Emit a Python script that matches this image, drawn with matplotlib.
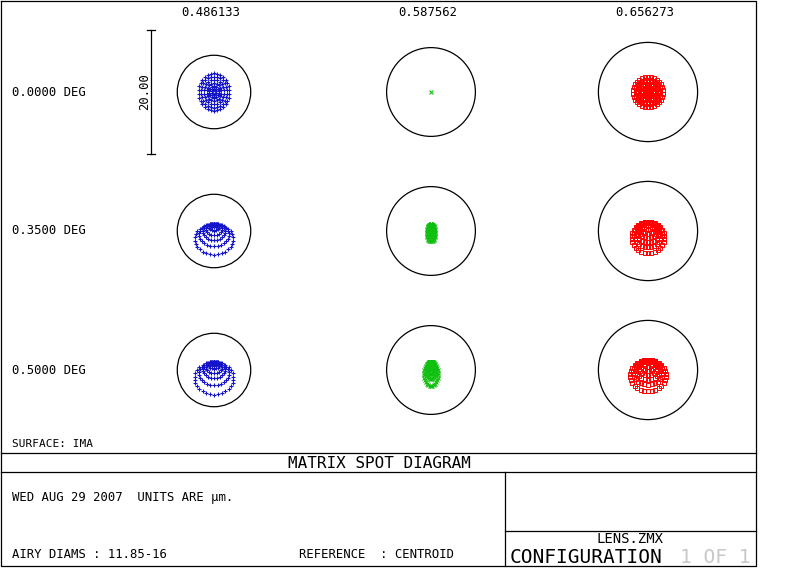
import numpy as np
import matplotlib.pyplot as plt
from matplotlib.patches import Circle

# wavelengths (columns) and field angles (rows)
wavelengths = ['0.486133', '0.587562', '0.656273']
fields = ['0.0000 DEG', '0.3500 DEG', '0.5000 DEG']
airy_diam = [11.85, 14.32, 16.00]          # um
colors = ['#1414c8', '#10c010', '#ff0000']
markers = ['+', 'x', 's']

# spot rings per wavelength, one list per field: half widths, half heights, centre offset (um)
blue_rx = [[2.5, 2.1, 1.65, 1.2, 0.75, 0.35],
           [3.1, 2.4, 1.8, 1.3, 0.85, 0.45, 0.18],
           [3.15, 2.4, 1.8, 1.3, 0.85, 0.45, 0.18]]
blue_ry = [[3.0, 2.5, 2.0, 1.45, 0.9, 0.42],
           [2.5, 1.8, 1.32, 0.92, 0.58, 0.3, 0.12],
           [2.63, 1.85, 1.3, 0.9, 0.55, 0.3, 0.12]]
blue_dy = [[0, 0, 0, 0, 0, 0],
           [-1.3, -0.6, -0.12, 0.28, 0.62, 0.9, 1.08],
           [-1.34, -0.56, -0.01, 0.39, 0.74, 0.99, 1.17]]

green_rx = [[0.0],
            [0.7, 0.52, 0.37, 0.24, 0.13, 0.05],
            [1.13, 0.85, 0.6, 0.4, 0.23, 0.1, 0.04]]
green_ry = [[0.0],
            [1.37, 1.0, 0.7, 0.45, 0.25, 0.1],
            [2.0, 1.45, 1.0, 0.65, 0.38, 0.17, 0.06]]
green_dy = [[0.0],
            [-0.32, 0.05, 0.35, 0.6, 0.8, 0.95],
            [-0.63, -0.08, 0.37, 0.72, 0.99, 1.2, 1.31]]

red_rx = [[2.42, 2.0, 1.6, 1.2, 0.8, 0.4],
          [2.64, 2.25, 1.85, 1.45, 1.05, 0.65, 0.3],
          [2.9, 2.4, 1.95, 1.5, 1.1, 0.7, 0.32]]
red_ry = [[2.42, 2.0, 1.6, 1.2, 0.8, 0.4],
          [2.5, 2.05, 1.65, 1.28, 0.95, 0.6, 0.3],
          [2.5, 2.0, 1.6, 1.22, 0.88, 0.55, 0.25]]
red_dy = [[0, 0, 0, 0, 0, 0],
          [-1.05, -0.6, -0.2, 0.17, 0.5, 0.85, 1.15],
          [-0.89, -0.39, 0.01, 0.39, 0.73, 1.06, 1.36]]

ring_points = [30, 26, 22, 18, 14, 10, 6]

spot_rx = [blue_rx, green_rx, red_rx]
spot_ry = [blue_ry, green_ry, red_ry]
spot_dy = [blue_dy, green_dy, red_dy]

scale_bar = 20.0   # um
PX_PER_UM = 6.2

plt.rcParams['font.family'] = 'DejaVu Sans Mono'

fig = plt.figure(figsize=(8, 5.68), dpi=100)
bg = fig.add_axes([0, 0, 1, 1])
bg.set_xlim(0, 800)
bg.set_ylim(568, 0)
bg.axis('off')

# frame
lw = 0.9
bg.plot([1, 756, 756, 1, 1], [1, 1, 566, 566, 1], color='black', lw=lw)
bg.plot([1, 756], [453, 453], color='black', lw=lw)
bg.plot([1, 756], [472, 472], color='black', lw=lw)
bg.plot([505, 505], [472, 566], color='black', lw=lw)
bg.plot([505, 756], [531, 531], color='black', lw=lw)

col_x = [214, 431, 648]
row_y = [92, 231, 370]
cell_w, cell_h = 217, 139

for c, wl in enumerate(wavelengths):
    bg.text(col_x[c] - 3, 12, wl, ha='center', va='center', fontsize=8.8)
for r, fl in enumerate(fields):
    bg.text(12, row_y[r], fl, ha='left', va='center', fontsize=8.8)

for c in range(3):
    for r in range(3):
        ax = fig.add_axes([(col_x[c] - cell_w / 2) / 800, 1 - (row_y[r] + cell_h / 2) / 568,
                           cell_w / 800, cell_h / 568])
        ax.set_xlim(-cell_w / 2 / PX_PER_UM, cell_w / 2 / PX_PER_UM)
        ax.set_ylim(-cell_h / 2 / PX_PER_UM, cell_h / 2 / PX_PER_UM)
        ax.axis('off')
        ax.add_patch(Circle((0, 0), airy_diam[c] / 2, fill=False, color='black', lw=0.9))
        rx, ry, dy = spot_rx[c][r], spot_ry[c][r], spot_dy[c][r]
        for i in range(len(rx)):
            n = ring_points[i] if rx[i] > 0 else 1
            a = np.linspace(0, 2 * np.pi, n, endpoint=False)
            xs = rx[i] * np.sin(a)
            ys = dy[i] + ry[i] * np.cos(a)
            if markers[c] == 's':
                ax.plot(xs, ys, ls='none', marker='s', ms=2.4, mfc='none',
                        mec=colors[c], mew=0.7)
            else:
                ax.plot(xs, ys, ls='none', marker=markers[c], ms=3.0,
                        color=colors[c], mew=0.8)
        if c == 0 and r == 0:
            bx = -10.16
            ax.plot([bx, bx], [-scale_bar / 2, scale_bar / 2], color='black', lw=0.9, clip_on=False)
            for yy in (-scale_bar / 2, scale_bar / 2):
                ax.plot([bx - 0.7, bx + 0.7], [yy, yy], color='black', lw=0.9, clip_on=False)
            ax.text(bx - 1.0, 0, '%.2f' % scale_bar, rotation=90, ha='center', va='center',
                    fontsize=8.8)

bg.text(12, 444, 'SURFACE: IMA', ha='left', va='center', fontsize=8)
bg.text(379, 463, 'MATRIX SPOT DIAGRAM', ha='center', va='center', fontsize=11.5)
bg.text(12, 498, 'WED AUG 29 2007  UNITS ARE \u00b5m.', ha='left', va='center', fontsize=8.8)
bg.text(12, 555, 'AIRY DIAMS : %.2f-%g' % (airy_diam[0], round(airy_diam[2])),
        ha='left', va='center', fontsize=8.8)
bg.text(299, 555, 'REFERENCE  : CENTROID', ha='left', va='center', fontsize=8.8)
bg.text(630, 539, 'LENS.ZMX', ha='center', va='center', fontsize=10)
bg.text(510, 557.5, 'CONFIGURATION', ha='left', va='center', fontsize=14)
bg.text(680, 557.5, '1 OF 1', ha='left', va='center', fontsize=14, color='#c8c8c8')

fig.savefig('out.png', dpi=100)
